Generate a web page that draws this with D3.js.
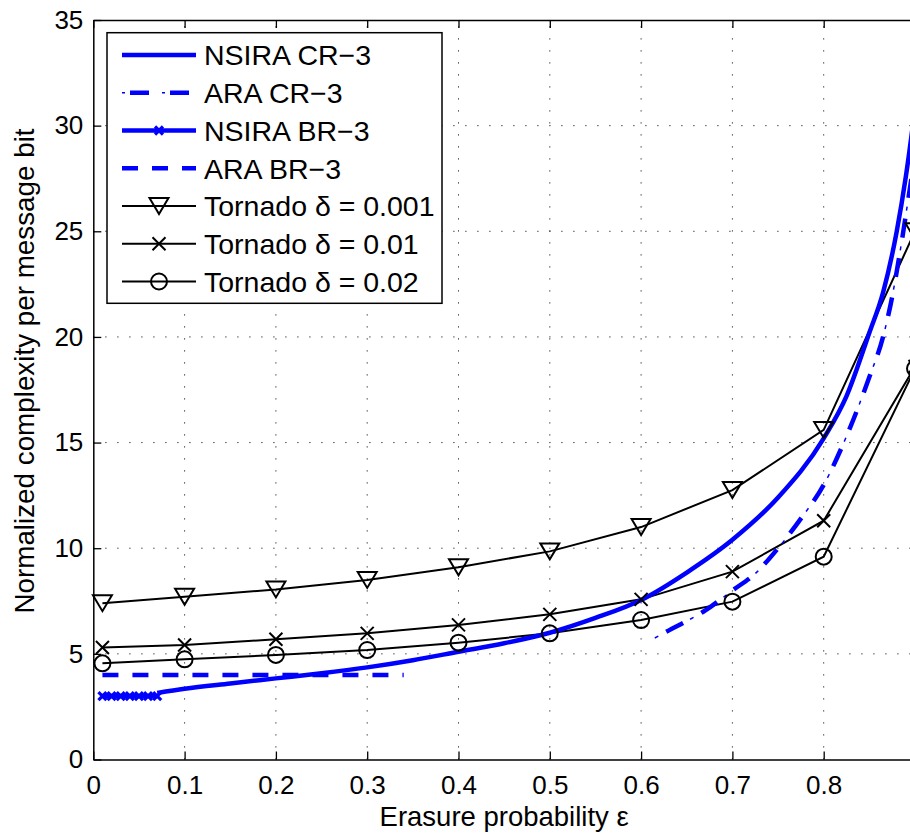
<!DOCTYPE html>
<html>
<head>
<meta charset="utf-8">
<script src="https://cdn.jsdelivr.net/npm/d3@7"></script>
<style>
  body { margin: 0; background: #fff; }
  svg { display: block; }
  text { font-family: "Liberation Sans", Arial, Helvetica, sans-serif; fill: #000; }
</style>
</head>
<body>
<svg id="chart" width="910" height="835"></svg>
<script>
// ---- data ----
const xTicks = [0, 0.1, 0.2, 0.3, 0.4, 0.5, 0.6, 0.7, 0.8, 0.9];
const xTickLabels = ["0", "0.1", "0.2", "0.3", "0.4", "0.5", "0.6", "0.7", "0.8", ""];
const yTicks = [0, 5, 10, 15, 20, 25, 30, 35];

// NSIRA CR-3 (solid blue)
const nsiraCrX = [0.07, 0.1, 0.15, 0.2, 0.25, 0.3, 0.35, 0.4, 0.45, 0.5, 0.55, 0.6, 0.65, 0.7, 0.75, 0.8, 0.825, 0.85, 0.865, 0.88, 0.89, 0.9];
const nsiraCr  = [3.15, 3.35, 3.6, 3.84, 4.08, 4.36, 4.7, 5.1, 5.5, 6.0, 6.7, 7.55, 8.85, 10.4, 12.4, 15.2, 17.2, 20.2, 22.1, 25.0, 27.6, 30.8];

// ARA CR-3 (dash-dot blue)
const araCrX = [0.615, 0.63, 0.65, 0.67, 0.7, 0.725, 0.75, 0.775, 0.8, 0.825, 0.85, 0.865, 0.875, 0.885, 0.895, 0.9];
const araCr  = [5.75, 6.1, 6.55, 7.05, 8.0, 8.8, 10.0, 11.4, 13.0, 15.3, 18.1, 20.0, 21.9, 24.4, 27.2, 28.6];

// NSIRA BR-3 (blue with markers)
const nsiraBrX = [0.01, 0.02, 0.03, 0.04, 0.05, 0.06, 0.07];
const nsiraBr  = [3.0, 3.0, 3.0, 3.0, 3.0, 3.0, 3.0];

// ARA BR-3 (dashed blue)
const araBrX = [0.01, 0.34];
const araBr  = [4.0, 4.0];

// Tornado codes
const tornadoX = [0.01, 0.1, 0.2, 0.3, 0.4, 0.5, 0.6, 0.7, 0.8, 0.9];
const tornado001 = [7.4, 7.7, 8.05, 8.5, 9.1, 9.85, 11.0, 12.75, 15.6, 25.0];
const tornado01  = [5.3, 5.42, 5.69, 5.97, 6.37, 6.87, 7.58, 8.89, 11.3, 18.6];
const tornado02  = [4.55, 4.74, 4.95, 5.18, 5.53, 5.97, 6.6, 7.47, 9.6, 18.5];

const legendLabels = ["NSIRA CR\u22123", "ARA CR\u22123", "NSIRA BR\u22123", "ARA BR\u22123",
  "Tornado \u03b4 = 0.001", "Tornado \u03b4 = 0.01", "Tornado \u03b4 = 0.02"];

// ---- layout ----
const svg = d3.select("#chart");
const pL = 93.3, pR = 915, pT = 20, pB = 759.5;
const x = d3.scaleLinear().domain([0, 0.9]).range([pL, pR]);
const y = d3.scaleLinear().domain([0, 35]).range([pB, pT]);
const BLUE = "#0000ff";

const zip = (xs, ys) => xs.map((v, i) => [v, ys[i]]);

// clip region for the data
svg.append("defs").append("clipPath").attr("id", "plotClip")
  .append("rect").attr("x", pL).attr("y", pT)
  .attr("width", pR - pL).attr("height", pB - pT);

// ---- dotted grid ----
const grid = svg.append("g").attr("stroke", "#222").attr("stroke-width", 1)
  .attr("stroke-dasharray", "1.2,10.8");
grid.selectAll("line.v").data(xTicks.filter(t => t > 0 && t < 0.9)).join("line")
  .attr("class", "v")
  .attr("x1", d => x(d)).attr("x2", d => x(d))
  .attr("y1", pB).attr("y2", pT);
grid.selectAll("line.h").data(yTicks.filter(t => t > 0 && t < 35)).join("line")
  .attr("class", "h")
  .attr("y1", d => y(d)).attr("y2", d => y(d))
  .attr("x1", pL).attr("x2", pR);

// ---- axes ----
const axisStyle = g => {
  g.select(".domain").attr("stroke", "#000").attr("stroke-width", 1.5);
  g.selectAll(".tick line").attr("stroke", "#000").attr("stroke-width", 1.3);
  g.selectAll(".tick text").attr("font-size", 26).attr("fill", "#000")
    .attr("font-family", "\"Liberation Sans\", Arial, sans-serif");
};

svg.append("g").attr("transform", `translate(0,${pB})`)
  .call(d3.axisBottom(x).tickValues(xTicks).tickSize(-8).tickSizeOuter(0).tickPadding(16)
    .tickFormat((d, i) => xTickLabels[i]))
  .call(axisStyle);

svg.append("g").attr("transform", `translate(${pL},0)`)
  .call(d3.axisLeft(y).tickValues(yTicks).tickSize(-8).tickSizeOuter(0).tickPadding(10)
    .tickFormat(d3.format("d")))
  .call(axisStyle);

svg.append("g").attr("transform", `translate(0,${pT})`)
  .call(d3.axisTop(x).tickValues(xTicks).tickSize(-8).tickSizeOuter(0).tickFormat(""))
  .call(axisStyle);

// ---- axis titles ----
svg.append("text")
  .attr("x", (pL + pR) / 2).attr("y", 826)
  .attr("text-anchor", "middle").attr("font-size", 27.5)
  .text("Erasure probability \u03b5");

svg.append("text")
  .attr("transform", `translate(34,371) rotate(-90)`)
  .attr("text-anchor", "middle").attr("font-size", 27.8)
  .text("Normalized complexity per message bit");

// ---- series ----
const plot = svg.append("g").attr("clip-path", "url(#plotClip)");
const smooth = d3.line().x(d => x(d[0])).y(d => y(d[1])).curve(d3.curveMonotoneX);
const straight = d3.line().x(d => x(d[0])).y(d => y(d[1]));

// marker painters
function triangleDown(g, cx, cy) {
  const w = 9.5, h = 8;
  g.append("path")
    .attr("d", `M${cx - w},${cy - h}L${cx + w},${cy - h}L${cx},${cy + h}Z`)
    .attr("fill", "none").attr("stroke", "#000").attr("stroke-width", 2);
}
function cross(g, cx, cy, s, color, sw) {
  g.append("path")
    .attr("d", `M${cx - s},${cy - s}L${cx + s},${cy + s}M${cx - s},${cy + s}L${cx + s},${cy - s}`)
    .attr("fill", "none").attr("stroke", color).attr("stroke-width", sw);
}
function circle(g, cx, cy) {
  g.append("circle").attr("cx", cx).attr("cy", cy).attr("r", 8)
    .attr("fill", "none").attr("stroke", "#000").attr("stroke-width", 2);
}

// Tornado curves
const tornadoSeries = [
  { ys: tornado001, mk: (g, cx, cy) => triangleDown(g, cx, cy) },
  { ys: tornado01,  mk: (g, cx, cy) => cross(g, cx, cy, 6.5, "#000", 2) },
  { ys: tornado02,  mk: (g, cx, cy) => circle(g, cx, cy) }
];
tornadoSeries.forEach(s => {
  const pts = zip(tornadoX, s.ys);
  plot.append("path").attr("d", straight(pts))
    .attr("fill", "none").attr("stroke", "#000").attr("stroke-width", 2);
  const mg = svg.append("g");
  pts.forEach(p => s.mk(mg, x(p[0]), y(p[1])));
});

// ARA BR-3
plot.append("path").attr("d", straight(zip(araBrX, araBr)))
  .attr("fill", "none").attr("stroke", BLUE).attr("stroke-width", 4.5)
  .attr("stroke-dasharray", "16,14");

// NSIRA CR-3
plot.append("path").attr("d", smooth(zip(nsiraCrX, nsiraCr)))
  .attr("fill", "none").attr("stroke", BLUE).attr("stroke-width", 4.5);

// ARA CR-3: thick dashes with thin dots between
const araPath = smooth(zip(araCrX, araCr));
plot.append("path").attr("d", araPath)
  .attr("fill", "none").attr("stroke", BLUE).attr("stroke-width", 4.5)
  .attr("stroke-dasharray", "19,21").attr("stroke-dashoffset", -13);
plot.append("path").attr("d", araPath)
  .attr("fill", "none").attr("stroke", BLUE).attr("stroke-width", 1.5)
  .attr("stroke-dasharray", "4,36");

// NSIRA BR-3
const brPts = zip(nsiraBrX, nsiraBr);
plot.append("path").attr("d", straight(brPts))
  .attr("fill", "none").attr("stroke", BLUE).attr("stroke-width", 4.5);
const brg = plot.append("g");
brPts.forEach(p => cross(brg, x(p[0]), y(p[1]), 4, BLUE, 3.2));

// ---- legend ----
const lg = svg.append("g");
lg.append("rect").attr("x", 107).attr("y", 32.7).attr("width", 335).attr("height", 270.6)
  .attr("fill", "#fff").attr("stroke", "#000").attr("stroke-width", 1.5);

const lx0 = 122, lx1 = 196, lxm = (lx0 + lx1) / 2, tx = 204, row0 = 55, rowH = 37.75;
legendLabels.forEach((lab, i) => {
  const cy = row0 + i * rowH;
  const seg = lg.append("line").attr("x1", lx0).attr("x2", lx1).attr("y1", cy).attr("y2", cy)
    .attr("fill", "none");
  if (i === 0) seg.attr("stroke", BLUE).attr("stroke-width", 4.5);
  if (i === 1) {
    seg.attr("stroke", BLUE).attr("stroke-width", 4.5)
      .attr("stroke-dasharray", "19,21").attr("stroke-dashoffset", -8);
    lg.append("line").attr("x1", lx0).attr("x2", lx1).attr("y1", cy).attr("y2", cy)
      .attr("stroke", BLUE).attr("stroke-width", 1.5).attr("stroke-dasharray", "3,37")
      .attr("stroke-dashoffset", 0);
  }
  if (i === 2) { seg.attr("stroke", BLUE).attr("stroke-width", 4.5); cross(lg, lxm, cy, 4, BLUE, 3.2); }
  if (i === 3) seg.attr("stroke", BLUE).attr("stroke-width", 4.5).attr("stroke-dasharray", "16,14");
  if (i >= 4) {
    seg.attr("stroke", "#000").attr("stroke-width", 2);
    tornadoSeries[i - 4].mk(lg, lxm, cy);
  }
  lg.append("text").attr("x", tx).attr("y", cy).attr("dy", "0.36em")
    .attr("font-size", 28.5).text(lab);
});
</script>
</body>
</html>
